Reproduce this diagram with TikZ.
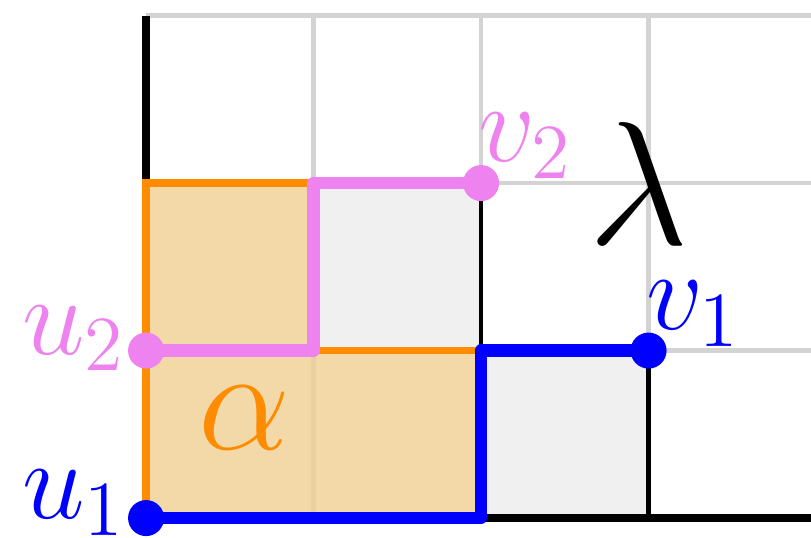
\documentclass[tikz,border=0pt]{standalone}
\usepackage{xcolor}
\definecolor{pathblue}{HTML}{0000FF}
\definecolor{pathviolet}{HTML}{EE82EE}
\definecolor{alphaorange}{HTML}{FF8C00}
\definecolor{alphafill}{HTML}{F0D092}
\definecolor{gridgray}{HTML}{D3D3D3}
\definecolor{cellgray}{HTML}{F0F0F0}
\usepackage{tikz}
\usetikzlibrary{positioning,calc}

\begin{document}
\begin{tikzpicture}[
      x=1cm, y=1cm,
      gridline/.style={gridgray, line width=0.8pt},
      axis/.style={black, line width=1.4pt},
      rim/.style={black, line width=0.7pt},
      latpath/.style={line width=2.1pt, line join=round},
      dot/.style={circle, fill, inner sep=0pt, minimum size=2.15mm},
      ptlbl/.style={inner sep=0pt, font=\huge, scale=0.92},
      biglbl/.style={inner sep=0pt, font=\Huge},
    ]
    \useasboundingbox (-0.872,-0.113) rectangle (3.97,3.093);

    \foreach \x in {1,2,3}
      \draw[gridline] (\x,0) -- (\x,3);
    \foreach \y in {1,2,3}
      \draw[gridline] (0,\y) -- (3.97,\y);

    \fill[cellgray] (1,1) rectangle (2,2);
    \fill[cellgray] (2,0) rectangle (3,1);
    \fill[alphafill, fill opacity=0.8] (0,0) -- (2,0) -- (2,1) -- (1,1) -- (1,2) -- (0,2) -- cycle;

    \draw[axis] (0,3) -- (0,0) -- (3.97,0);
    \draw[rim] (2,1) -- (2,2);
    \draw[rim] (3,0) -- (3,1);
    \draw[alphaorange, line width=1.3pt] (2,0) -- (2,1) -- (1,1) -- (1,2) -- (0,2) -- (0,0);

    \coordinate (u1) at (0,0);
    \coordinate (v1) at (3,1);
    \coordinate (u2) at (0,1);
    \coordinate (v2) at (2,2);
    \coordinate (bturn) at (2,1);
    \coordinate (pturn) at (1,2);

    \draw[latpath, pathviolet] (u2) -| (pturn) -- (v2);
    \draw[latpath, pathblue] (u1) -| (bturn) -- (v1);

    \node[dot, pathblue] (u1dot) at (u1) {};
    \node[dot, pathblue] (v1dot) at (v1) {};
    \node[dot, pathviolet] (u2dot) at (u2) {};
    \node[dot, pathviolet] (v2dot) at (v2) {};

    \node[ptlbl, pathblue, left=0cm of u1dot, yshift=0.1cm] (u1lbl) {$u_1$};
    \node[ptlbl, pathviolet, left=0cm of u2dot, yshift=0.08cm] (u2lbl) {$u_2$};
    \node[ptlbl, pathblue, above right=0.02cm and -0.02cm of v1] (v1lbl) {$v_1$};
    \node[ptlbl, pathviolet, above right=0.02cm and -0.02cm of v2] (v2lbl) {$v_2$};

    \node[biglbl, text=alphaorange] (alpha) at (0.59,0.6) {$\alpha$};
    \node[biglbl, scale=1.2] (lambda) at (2.94,2.0) {$\lambda$};
  \end{tikzpicture}
\end{document}
